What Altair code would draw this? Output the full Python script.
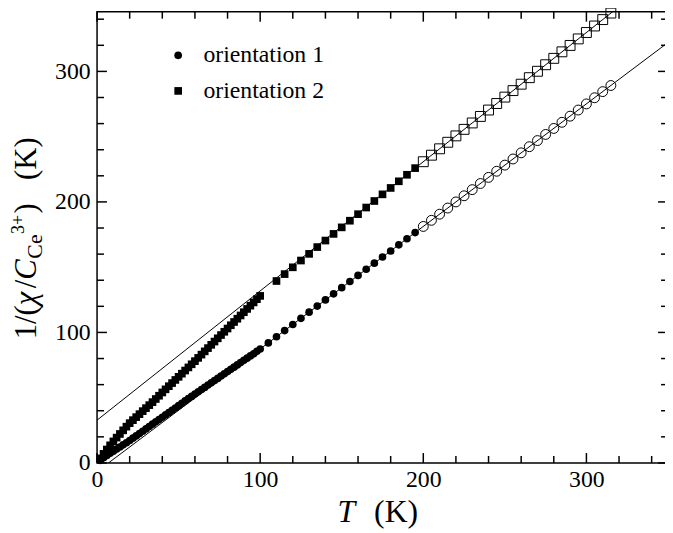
import altair as alt
import pandas as pd

# ---------------- data ----------------
T_low = [2, 4, 6, 8, 10, 12, 14, 16, 18, 20, 22, 24, 26, 28, 30, 32, 34, 36, 38, 40,
         42, 44, 46, 48, 50, 52, 54, 56, 58, 60, 62, 64, 66, 68, 70, 72, 74, 76, 78, 80,
         82, 84, 86, 88, 90, 92, 94, 96, 98, 100]
Y1_low = [2.0, 4.0, 5.8, 7.4, 9.0, 10.6, 12.2, 13.9, 15.5, 17.2, 19.0, 20.7, 22.5, 24.3, 26.1,
          27.9, 29.7, 31.5, 33.2, 35.0, 36.8, 38.5, 40.3, 42.1, 43.9, 45.7, 47.5, 49.3, 51.0, 52.8,
          54.5, 56.2, 57.9, 59.7, 61.4, 63.1, 64.8, 66.6, 68.3, 70.0, 71.7, 73.4, 75.1, 76.9, 78.6,
          80.3, 82.0, 83.7, 85.5, 87.3]
Y2_low = [3.5, 7.0, 10.3, 13.5, 16.5, 19.4, 22.2, 25.0, 27.8, 30.5, 32.8, 35.1, 37.4, 39.7, 42.0,
          44.3, 46.6, 49.0, 51.5, 54.0, 56.4, 58.8, 61.2, 63.6, 66.0, 68.4, 70.8, 73.2, 75.6, 78.0,
          80.5, 83.0, 85.5, 88.0, 90.5, 93.0, 95.5, 98.0, 100.5, 103.0, 105.5, 108.0, 110.5, 113.0,
          115.5, 118.0, 120.5, 123.0, 125.5, 128.0]

T1_mid = [105, 110, 115, 120, 125, 130, 135, 140, 145, 150, 155, 160, 165, 170, 175, 180, 185, 190, 195]
Y1_mid = [92.0, 96.7, 101.4, 106.1, 110.8, 115.5, 120.2, 124.9, 129.6, 134.3, 139.0, 143.7, 148.4,
          153.1, 157.8, 162.4, 167.1, 171.8, 176.5]
T2_mid = [110, 115, 120, 125, 130, 135, 140, 145, 150, 155, 160, 165, 170, 175, 180, 185, 190, 195]
Y2_mid = [139.4, 144.7, 149.9, 155.1, 160.2, 165.4, 170.4, 175.5, 180.5, 185.6, 190.6, 195.7,
          200.7, 205.8, 210.7, 215.8, 220.8, 225.9]

T_open = [200, 205, 210, 215, 220, 225, 230, 235, 240, 245, 250, 255, 260, 265, 270, 275, 280,
          285, 290, 295, 300, 305, 310, 315]
Y1_open = [181.2, 185.9, 190.6, 195.3, 200.0, 204.7, 209.4, 214.1, 218.8, 223.5, 228.2, 232.9,
           237.6, 242.3, 247.0, 251.7, 256.3, 261.0, 265.7, 270.4, 275.1, 279.8, 284.5, 289.2]
Y2_open = [230.8, 235.8, 240.7, 245.7, 250.6, 255.6, 260.5, 265.5, 270.4, 275.4, 280.3, 285.3,
           290.2, 295.2, 300.1, 305.1, 310.0, 315.0, 319.9, 324.9, 329.8, 334.8, 339.7, 344.7]

fit1_T = [7, 350]
fit1_Y = [0.0, 322.1]
fit2_T = [0, 350]
fit2_Y = [32.8, 379.3]

series_names = ["orientation 1", "orientation 2"]
x_major = [0, 100, 200, 300]
x_minor = [20, 40, 60, 80, 120, 140, 160, 180, 220, 240, 260, 280, 320, 340]
y_major = [0, 100, 200, 300]
y_minor = [20, 40, 60, 80, 120, 140, 160, 180, 220, 240, 260, 280, 320, 340]

# ---------------- frames ----------------
filled = pd.DataFrame({
    "T": T_low + T1_mid + T_low + T2_mid,
    "Y": Y1_low + Y1_mid + Y2_low + Y2_mid,
    "series": [series_names[0]] * (len(T_low) + len(T1_mid)) + [series_names[1]] * (len(T_low) + len(T2_mid)),
})
openpts = pd.DataFrame({
    "T": T_open + T_open,
    "Y": Y1_open + Y2_open,
    "series": [series_names[0]] * len(T_open) + [series_names[1]] * len(T_open),
})
fits = pd.DataFrame({
    "T": fit1_T + fit2_T,
    "Y": fit1_Y + fit2_Y,
    "fit": ["f1", "f1", "f2", "f2"],
})

W, H = 577, 456
FONT = "Liberation Serif"

xs = alt.Scale(domain=[0, 350], nice=False, zero=False)
ys = alt.Scale(domain=[0, 345.7], nice=False, zero=False)
xaxis = alt.Axis(values=x_major, ticks=False, domain=False, grid=False, labelFont=FONT,
                 labelFontSize=24, labelColor="black", labelPadding=5, labelFlush=False,
                 labelOverlap=False, format="d", title="")
yaxis = alt.Axis(values=y_major, ticks=False, domain=False, grid=False, labelFont=FONT,
                 labelFontSize=24, labelColor="black", labelPadding=7, labelFlush=False,
                 labelOverlap=False, format="d", title="")
X = alt.X("T:Q", scale=xs, axis=xaxis)
Y = alt.Y("Y:Q", scale=ys, axis=yaxis)

shape_scale = alt.Scale(domain=series_names, range=["circle", "square"])
legend = alt.Legend(title=None, orient="none", legendX=70, legendY=32, labelFont=FONT,
                    labelFontSize=24, labelColor="black", symbolSize=60, labelOffset=13.5,
                    rowPadding=12, padding=0, symbolFillColor="black", symbolStrokeColor="black")

lines = alt.Chart(fits).mark_line(color="black", strokeWidth=1, clip=True).encode(
    x=X, y=Y, detail="fit:N")

pts_f = alt.Chart(filled).mark_point(filled=True, color="black", opacity=1, size=60).encode(
    x=X, y=Y, shape=alt.Shape("series:N", scale=shape_scale, legend=legend))

pts_o = alt.Chart(openpts).mark_point(filled=False, color="black", opacity=1, size=100,
                                     strokeWidth=1).encode(
    x=X, y=Y, shape=alt.Shape("series:N", scale=shape_scale, legend=legend))


def xticks(vals, length, top):
    df = pd.DataFrame({"T": vals})
    if top:
        yv, y2v = 0, length
    else:
        yv, y2v = H, H - length
    return alt.Chart(df).mark_rule(color="black", strokeWidth=1.5).encode(
        x=X, y=alt.value(yv), y2=alt.value(y2v))


def yticks(vals, length, right):
    df = pd.DataFrame({"Y": vals})
    if right:
        xv, x2v = W, W - length
    else:
        xv, x2v = 0, length
    return alt.Chart(df).mark_rule(color="black", strokeWidth=1.5).encode(
        y=Y, x=alt.value(xv), x2=alt.value(x2v))


ticks = [
    xticks(x_major, 10, False), xticks(x_minor, 7, False),
    xticks(x_major, 10, True), xticks(x_minor, 7, True),
    yticks(y_major, 10, False), yticks(y_minor, 7, False),
    yticks(y_major, 10, True), yticks(y_minor, 7, True),
]


def txt(s, x, y, size, style="normal", angle=0):
    df = pd.DataFrame({"s": [s]})
    kw = dict(font=FONT, fontSize=size, fontStyle=style, align="left",
              baseline="alphabetic", color="black")
    if angle:
        kw["angle"] = angle
    return alt.Chart(df).mark_text(**kw).encode(
        x=alt.value(x), y=alt.value(y), text="s:N")


BX = -62
titles = [
    # x title
    txt("T", 243, 516, 32, "italic"),
    txt("(K)", 280, 516, 32),
    # y title (rotated, reads bottom to top)
    txt("1/(", BX, 331, 31, angle=270),
    txt("χ", BX, 296.5, 31, "italic", angle=270),
    txt("/", BX, 279.5, 31, angle=270),
    txt("C", BX, 270.9, 31, "italic", angle=270),
    txt("Ce", BX + 6, 249.5, 22, angle=270),
    txt("3+", BX - 12, 224.6, 18, angle=270),
    txt(")", BX, 204, 31, angle=270),
    txt("(K)", BX, 170, 31, angle=270),
]

chart = alt.layer(lines, pts_f, pts_o, *ticks, *titles).properties(
    width=W, height=H,
    autosize=alt.AutoSizeParams(type="none"),
    padding={"left": 90, "top": 1, "right": -3, "bottom": 68},
    background="white",
).configure(font=FONT).configure_view(stroke="black", strokeWidth=1.5).configure_axis(
    labelFont=FONT).configure_legend(labelFont=FONT)

chart.save("out.html", embed_options={"renderer": "svg", "actions": False})
